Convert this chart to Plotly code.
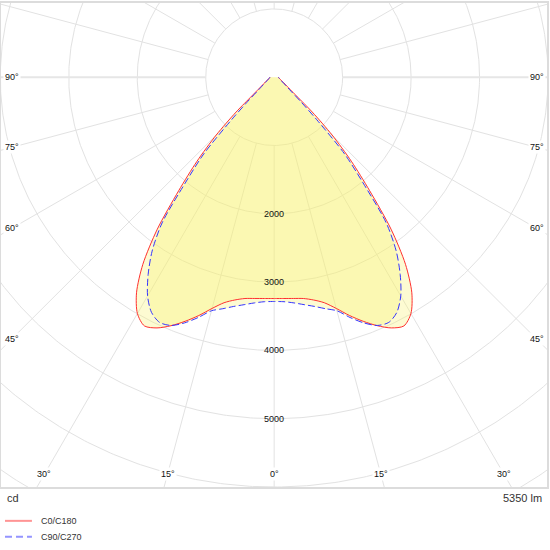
import numpy as np
import plotly.graph_objects as go

# ---- data ----
# gamma angle from nadir (deg)
gamma = [0, 2.5, 5, 7.5, 10, 12.5, 15, 17.5, 20, 22.5, 25, 27.5, 30, 32.5,
         35, 37.5, 40, 42.5, 45, 47.5, 50, 52.5, 55, 57.5, 60, 65, 70, 75,
         80, 85, 90]

# luminous intensity (cd)
c0_c180 = [3240, 3243, 3252, 3268, 3312, 3382, 3505, 3658, 3803, 3938, 4050,
           4105, 3995, 3742, 3344, 2804, 2171, 1668, 1197, 754, 425, 295, 228,
           188, 157, 121, 98, 84, 73, 66, 63]
c90_c270 = [3284, 3290, 3317, 3359, 3408, 3472, 3540, 3689, 3828, 3934, 3961,
            3881, 3698, 3426, 3108, 2690, 2020, 1520, 880, 520, 330, 250, 200,
            165, 140, 112, 93, 80, 72, 66, 63]

series_names = ["C0/C180", "C90/C270"]
ring_values = [1000, 2000, 3000, 4000, 5000, 6000, 7000, 8000]
ring_labels = [2000, 3000, 4000, 5000]
spoke_angles = list(range(0, 360, 15))
side_labels = [90, 75, 60, 45]
bottom_labels = [0, 15, 30]
unit_text = "cd"
flux_text = "5350 lm"

FONT = "Liberation Sans, Arial, sans-serif"
GRID = "#e2e2e2"
FILL = "rgba(248,242,105,0.3)"


def curve_xy(values):
    """closed curve, mirrored left/right around the nadir"""
    g = np.radians(np.array(gamma))
    v = np.array(values, dtype=float)
    x = np.concatenate([-(v * np.sin(g))[::-1], v * np.sin(g)])
    y = np.concatenate([-(v * np.cos(g))[::-1], -v * np.cos(g)])
    return x, y


def paper_x(px):
    return (px - 1) / 547


def paper_y(py):
    return (487 - py) / 486


fig = go.Figure()

# rings
t = np.linspace(0, 2 * np.pi, 721)
gx, gy = [], []
for r in ring_values:
    gx += list(r * np.cos(t)) + [None]
    gy += list(r * np.sin(t)) + [None]
fig.add_trace(go.Scatter(x=gx, y=gy, mode="lines", hoverinfo="skip",
                         line=dict(color=GRID, width=1), showlegend=False))

# spokes (start at the first ring)
sx, sy = [], []
hx, hy = [], []
for a in spoke_angles:
    ra = np.radians(a)
    xs = [1000 * np.sin(ra), 9000 * np.sin(ra), None]
    ys = [-1000 * np.cos(ra), -9000 * np.cos(ra), None]
    if a % 180 == 90:
        hx += xs
        hy += ys
    else:
        sx += xs
        sy += ys
fig.add_trace(go.Scatter(x=sx, y=sy, mode="lines", hoverinfo="skip",
                         line=dict(color=GRID, width=1), showlegend=False))
fig.add_trace(go.Scatter(x=hx, y=hy, mode="lines", hoverinfo="skip",
                         line=dict(color="#e6e6e6", width=2), showlegend=False))

# fills then outlines
curves = [c0_c180, c90_c270]
styles = [dict(color="#ff3030", width=1),
          dict(color="#3535ff", width=1, dash="7px,3px")]
for vals in curves:
    x, y = curve_xy(vals)
    fig.add_trace(go.Scatter(x=x, y=y, mode="lines", fill="toself",
                             fillcolor=FILL, line=dict(width=0, shape="spline"),
                             hoverinfo="skip", showlegend=False))
for vals, st, name in zip(curves, styles, series_names):
    x, y = curve_xy(vals)
    st = dict(st, shape="spline", smoothing=0.8)
    fig.add_trace(go.Scatter(x=x, y=y, mode="lines", line=st, name=name,
                             showlegend=False))

annotations = []
for v in ring_labels:
    annotations.append(dict(x=0, y=-v, text=str(v), showarrow=False,
                            font=dict(size=9, color="#111", family=FONT)))

# angle labels on the spokes, just inside the frame
side_x = 3835
for a in side_labels:
    yv = 0 if a == 90 else -side_x / np.tan(np.radians(a))
    for sgn in (-1, 1):
        annotations.append(dict(x=sgn * side_x, y=yv, text=f"{a}°",
                                showarrow=False, bgcolor="white",
                                font=dict(size=9, color="#111", family=FONT)))
bottom_y = -5812
for a in bottom_labels:
    xv = bottom_y * -np.tan(np.radians(a))
    for sgn in ((1,) if a == 0 else (-1, 1)):
        annotations.append(dict(x=sgn * xv, y=bottom_y, text=f"{a}°",
                                showarrow=False, bgcolor="white",
                                font=dict(size=9, color="#111", family=FONT)))

annotations.append(dict(xref="paper", yref="paper", x=paper_x(5),
                        y=paper_y(498), text=unit_text, showarrow=False,
                        xanchor="left", yanchor="middle",
                        font=dict(size=11, color="#333", family=FONT)))
annotations.append(dict(xref="paper", yref="paper", x=paper_x(545),
                        y=paper_y(498), text=flux_text, showarrow=False,
                        xanchor="right", yanchor="middle",
                        font=dict(size=11, color="#333", family=FONT)))

# hand-made legend
shapes = []
legend_rows = [521, 537]
legend_lines = [dict(color="rgba(255,60,60,0.55)", width=2),
                dict(color="rgba(60,60,255,0.55)", width=2, dash="7px,4px")]
for py, ln, name in zip(legend_rows, legend_lines, series_names):
    shapes.append(dict(type="line", xref="paper", yref="paper",
                       x0=paper_x(5), x1=paper_x(32), y0=paper_y(py),
                       y1=paper_y(py), line=ln))
    annotations.append(dict(xref="paper", yref="paper", x=paper_x(39),
                            y=paper_y(py), text=name, showarrow=False,
                            xanchor="left", yanchor="middle",
                            font=dict(size=9, color="#333", family=FONT)))

axis = dict(showgrid=False, zeroline=False, showticklabels=False, ticks="",
            showline=True, mirror=True, linecolor="#dcdcdc", linewidth=2)
fig.update_layout(
    width=550, height=550,
    margin=dict(l=1, r=2, t=1, b=63),
    paper_bgcolor="white", plot_bgcolor="white",
    xaxis=dict(axis, range=[-3990, 3985]),
    yaxis=dict(axis, range=[-6000, 1087]),
    annotations=annotations, shapes=shapes,
    showlegend=False,
)

# drop the browser's default page margin so the figure sits at 0,0
fig.write_html("out.html", config={"displayModeBar": False},
               post_script="document.body.style.margin='0px';")
